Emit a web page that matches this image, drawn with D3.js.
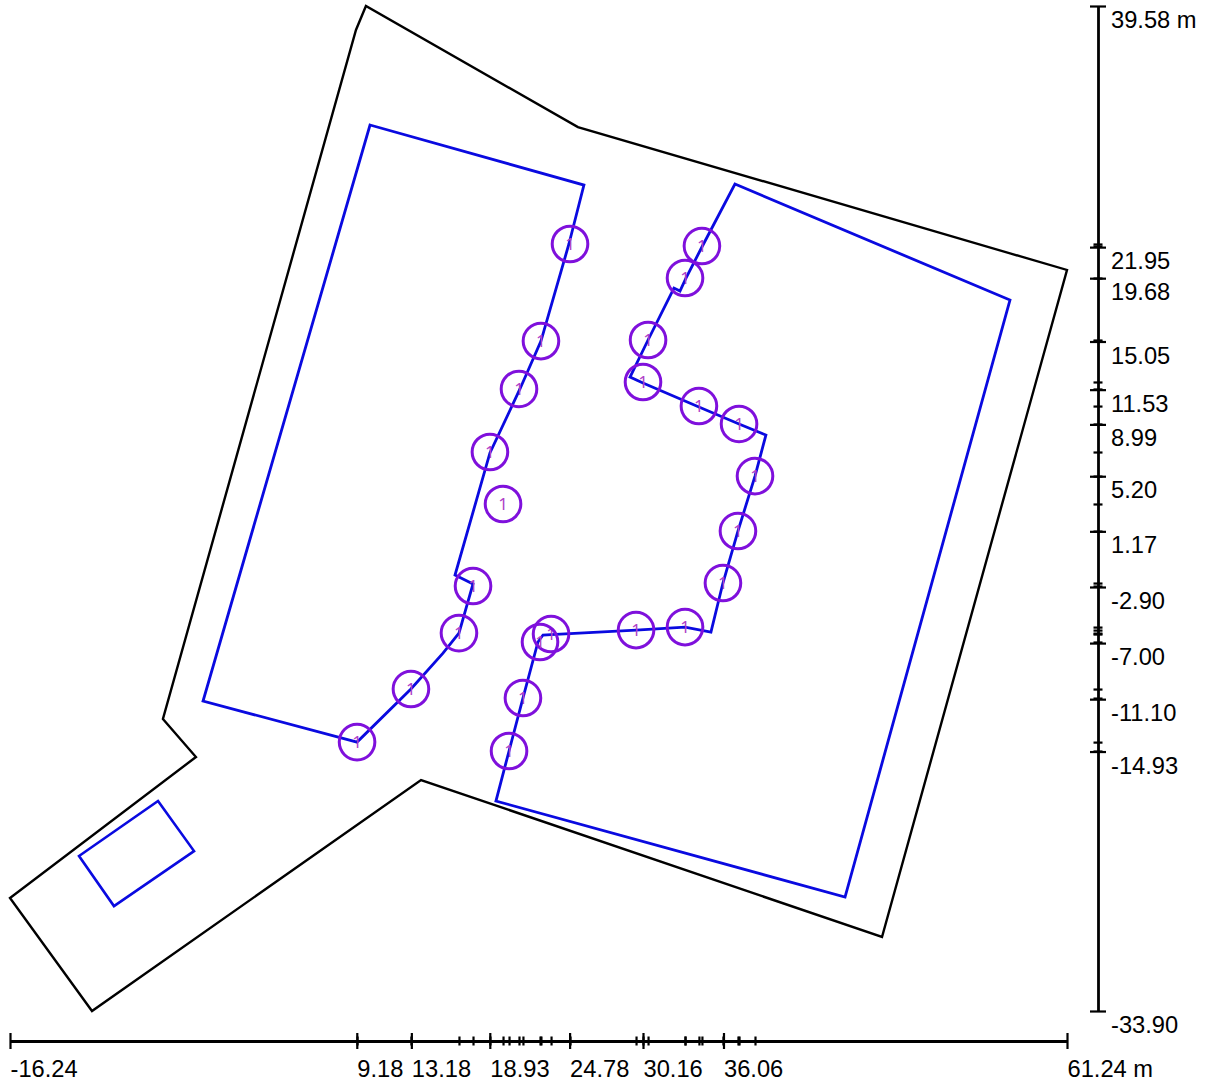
<!DOCTYPE html>
<html><head><meta charset="utf-8">
<script src="https://cdn.jsdelivr.net/npm/d3@7/dist/d3.min.js"></script>
<style>html,body{margin:0;padding:0;background:#fff}svg{display:block}text{font-family:"Liberation Sans",Arial,sans-serif}</style>
</head><body><svg id="c" width="1206" height="1083"></svg>
<script>
// All values in metres
const xLabelled=[-16.24,9.18,13.18,18.93,24.78,30.16,36.06,61.24];
const yLabelled=[39.58,21.95,19.68,15.05,11.53,8.99,5.20,1.17,-2.90,-7.00,-11.10,-14.93,-33.90];
const siteX=[9.85,9.12,-5.03,-2.61,-16.24,-10.23,13.89,47.68,61.24,25.39];
const siteY=[39.58,37.83,-12.55,-15.33,-25.64,-33.90,-17.01,-28.49,20.28,30.73];
const leftX=[10.15,25.83,24.73,22.68,21.14,18.94,16.38,17.70,16.67,15.50,13.15,9.20,-2.09];
const leftY=[30.88,26.49,22.18,15.08,11.58,6.90,-2.03,-2.68,-6.27,-7.73,-10.36,-14.24,-11.24];
const smallX=[-5.39,-2.75,-8.62,-11.18];
const smallY=[-18.55,-22.21,-26.23,-22.57];
const rightX=[36.90,57.06,44.97,19.38,20.34,21.36,22.46,22.83,23.42,29.65,33.24,35.14,36.02,37.12,38.37,39.17,37.20,34.26,30.16,29.21,30.53,32.43,32.87,33.31,34.48];
const rightY=[26.56,18.08,-25.57,-18.55,-14.89,-11.02,-6.92,-6.41,-6.38,-6.05,-5.83,-6.19,-2.61,1.19,5.21,8.21,9.02,10.26,12.01,12.45,15.16,18.96,18.74,19.69,21.96];
const markX=[24.81,34.48,33.24,22.68,30.53,21.07,30.16,34.26,37.20,18.94,38.37,19.90,37.12,36.02,17.70,16.67,23.42,22.61,29.65,33.24,13.15,21.36,9.20,20.34];
const markY=[22.18,22.03,19.69,15.08,15.16,11.58,12.09,10.33,9.02,6.97,5.21,3.17,1.19,-2.61,-2.83,-6.27,-6.34,-6.92,-6.05,-5.83,-10.36,-11.02,-14.24,-14.89];
const markLabel="1";

const svg=d3.select("#c");
const x=d3.scaleLinear().domain([-16.24,61.24]).range([10,1067]);
const y=d3.scaleLinear().domain([39.58,-33.90]).range([6,1011]);
const line=d3.line().x(d=>x(d[0])).y(d=>y(d[1]));
const pts=(a,b)=>a.map((v,i)=>[v,b[i]]);

function shape(a,b,color,w,closed){
  svg.append("path").attr("d",line(pts(a,b))+(closed?"Z":""))
    .attr("fill","none").attr("stroke",color).attr("stroke-width",w).attr("stroke-linejoin","miter");
}
shape(siteX,siteY,"#000",2.4,true);
shape(leftX,leftY,"#0a0ae0",2.8,true);
shape(smallX,smallY,"#0a0ae0",2.6,true);
shape(rightX,rightY,"#0a0ae0",2.8,true);

const marks=svg.append("g").selectAll("g").data(pts(markX,markY)).join("g")
  .attr("transform",d=>`translate(${x(d[0])},${y(d[1])})`);
marks.append("circle").attr("r",17.8).attr("fill","none").attr("stroke","#7f10dc").attr("stroke-width",3);
marks.append("text").text(markLabel).attr("text-anchor","middle").attr("dy","0.36em")
  .attr("font-size",17).style("font-family",'"Noto Sans",Roboto,sans-serif').attr("fill","#b040c8");

// bottom axis
const axB=svg.append("g").attr("transform","translate(0,1041)");
axB.append("g").call(d3.axisBottom(x).tickValues(markX).tickSize(0).tickFormat(""))
  .call(g=>g.select(".domain").remove())
  .call(g=>g.selectAll(".tick line").attr("y1",-4.5).attr("y2",4.5).attr("stroke-width",2.2).attr("stroke","#000"));
axB.append("g").call(d3.axisBottom(x).tickValues(xLabelled).tickSizeOuter(0)
    .tickFormat((d,i)=>d.toFixed(2)+(i===xLabelled.length-1?" m":"")))
  .call(g=>g.select(".domain").attr("stroke","#000").attr("stroke-width",2.8))
  .call(g=>g.selectAll(".tick line").attr("y1",-8).attr("y2",8).attr("stroke-width",2.2).attr("stroke","#000"))
  .call(g=>g.selectAll(".tick text").attr("text-anchor","start").attr("x",0).attr("y",27).attr("dy","0.36em")
     .attr("font-size",23.7).attr("font-family",'"Liberation Sans",Arial,sans-serif').attr("fill","#000"));

// right axis
const axR=svg.append("g").attr("transform","translate(1098,0)");
axR.append("g").call(d3.axisRight(y).tickValues(markY).tickSize(0).tickFormat(""))
  .call(g=>g.select(".domain").remove())
  .call(g=>g.selectAll(".tick line").attr("x1",-4.5).attr("x2",4.5).attr("stroke-width",2.2).attr("stroke","#000"));
axR.append("g").call(d3.axisRight(y).tickValues(yLabelled).tickSizeOuter(0)
    .tickFormat((d,i)=>d.toFixed(2)+(i===0?" m":"")))
  .call(g=>g.select(".domain").attr("stroke","#000").attr("stroke-width",2.8))
  .call(g=>g.selectAll(".tick line").attr("x1",-8).attr("x2",8).attr("stroke-width",2.2).attr("stroke","#000"))
  .call(g=>g.selectAll(".tick text").attr("text-anchor","start").attr("x",13).attr("y",13).attr("dy","0.36em")
     .attr("font-size",23.7).attr("font-family",'"Liberation Sans",Arial,sans-serif').attr("fill","#000"));
</script></body></html>
